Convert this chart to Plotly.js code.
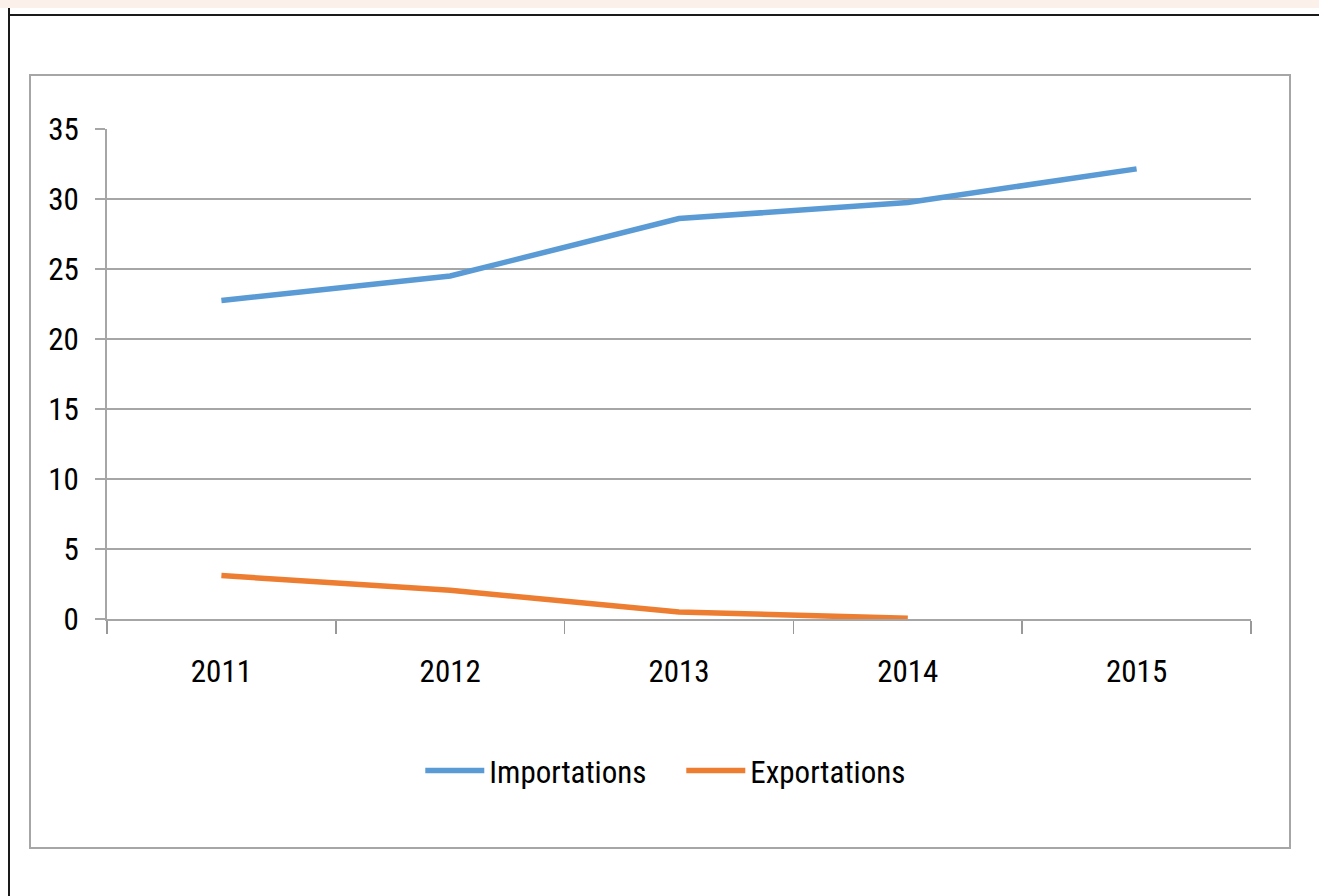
<!DOCTYPE html>
<html>
<head>
<meta charset="utf-8">
<script src="https://cdn.plot.ly/plotly-3.0.1.min.js"></script>
<style>
  html, body { margin: 0; padding: 0; background: #ffffff; }
  #page { position: relative; width: 1319px; height: 896px; overflow: hidden; background: #ffffff; }
  #strip { position: absolute; left: 0; top: 0; width: 1319px; height: 8px; background: #fcf1ea; }
  #hline { position: absolute; left: 8px; top: 14px; width: 1311px; height: 2px; background: #1a1a1a; }
  #vline { position: absolute; left: 8px; top: 8px; width: 2px; height: 888px; background: #1a1a1a; }
  #box { position: absolute; left: 29px; top: 74px; width: 1258px; height: 771px; border: 2px solid #a6a6a6; }
  #chart { position: absolute; left: 0; top: 0; width: 1319px; height: 896px; }
</style>
</head>
<body>
<div id="page">
  <div id="strip"></div>
  <div id="hline"></div>
  <div id="vline"></div>
  <div id="box"></div>
  <div id="chart"></div>
</div>
<script>
const years = ['2011', '2012', '2013', '2014', '2015'];
const importations = [22.75, 24.5, 28.6, 29.75, 32.15];
const exportations = [3.1, 2.05, 0.5, 0.05, null];
const yTicks = [0, 5, 10, 15, 20, 25, 30, 35];

const FONT = '"Roboto Condensed", "Liberation Sans Narrow", "DejaVu Sans Condensed", "Arial Narrow", sans-serif';

const traces = [
  {
    x: years, y: importations, name: 'Importations', type: 'scatter', mode: 'lines',
    line: { color: '#5b9bd5', width: 5.5 }
  },
  {
    x: years, y: exportations, name: 'Exportations', type: 'scatter', mode: 'lines',
    line: { color: '#ed7d31', width: 5.5 }
  }
];

const layout = {
  width: 1319, height: 896,
  margin: { l: 107, r: 68, t: 129, b: 277 },
  paper_bgcolor: 'rgba(0,0,0,0)',
  plot_bgcolor: 'rgba(0,0,0,0)',
  font: { family: FONT, size: 31, color: '#000000' },
  showlegend: true,
  legend: {
    orientation: 'h', x: 0.502, xanchor: 'center', y: -0.31, yanchor: 'middle',
    itemwidth: 59,
    entrywidth: 187,
    font: { family: FONT, size: 31, color: '#000000' },
    bgcolor: 'rgba(0,0,0,0)'
  },
  xaxis: {
    type: 'category',
    categoryorder: 'array', categoryarray: years,
    range: [-0.5, 4.5],
    tickson: 'boundaries',
    ticks: 'outside', ticklen: 13, tickwidth: 1.5, tickcolor: '#999999',
    showline: true, linecolor: '#a6a6a6', linewidth: 2,
    showgrid: false, zeroline: false,
    ticklabelstandoff: 24,
    tickfont: { family: FONT, size: 31, color: '#000000' },
    fixedrange: true
  },
  yaxis: {
    range: [0, 35],
    tickvals: yTicks,
    ticktext: yTicks.map(String),
    ticks: 'outside', ticklen: 10, tickwidth: 2, tickcolor: '#a6a6a6',
    showline: true, linecolor: '#a6a6a6', linewidth: 2,
    showgrid: true, gridcolor: '#a6a6a6', gridwidth: 2,
    zeroline: false,
    ticklabelstandoff: 10,
    tickfont: { family: FONT, size: 31, color: '#000000' },
    fixedrange: true
  }
};

Plotly.newPlot('chart', traces, layout, { displayModeBar: false, staticPlot: true });
</script>
</body>
</html>
